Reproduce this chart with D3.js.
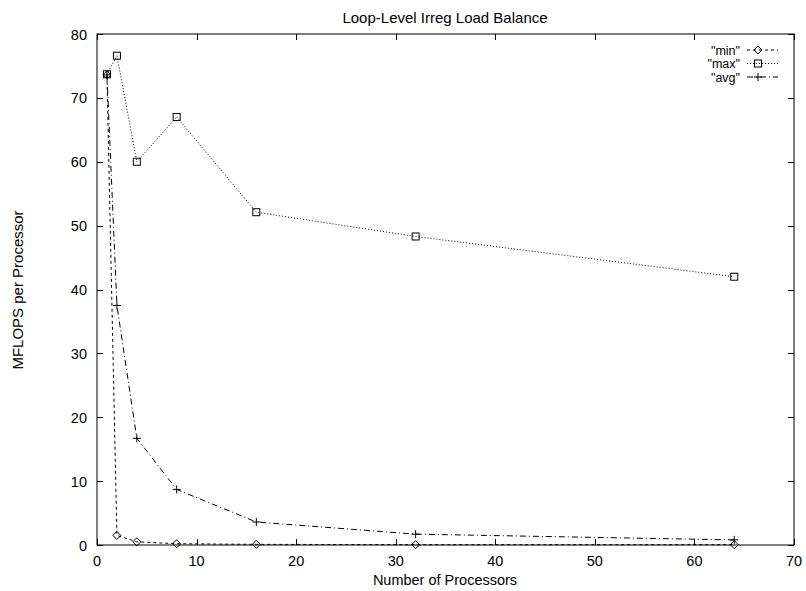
<!DOCTYPE html>
<html><head><meta charset="utf-8">
<script src="https://cdn.jsdelivr.net/npm/d3@7"></script>
<style>body{margin:0;background:#fff}text{font-family:"Liberation Sans",Arial,sans-serif;fill:#000}</style>
</head><body><svg id="c" width="806" height="591"></svg>
<script>
const procs = [1, 2, 4, 8, 16, 32, 64];
const minVals = [73.6, 1.5, 0.5, 0.2, 0.1, 0.05, 0.05];
const maxVals = [73.7, 76.6, 60.0, 67.0, 52.1, 48.3, 42.0];
const avgVals = [73.6, 37.5, 16.7, 8.7, 3.6, 1.7, 0.8];
const xTicks = [0, 10, 20, 30, 40, 50, 60, 70];
const yTicks = [0, 10, 20, 30, 40, 50, 60, 70, 80];
const series = [
  {name: '"min"', vals: minVals, dash: "3,3", marker: "diamond"},
  {name: '"max"', vals: maxVals, dash: "1,2", marker: "square"},
  {name: '"avg"', vals: avgVals, dash: "6,3,1,3", marker: "plus"}
];
const svg = d3.select("#c");
const L = 97, R = 794, T = 34, B = 545;
const x = d3.scaleLinear().domain([0, 70]).range([L, R]);
const y = d3.scaleLinear().domain([0, 80]).range([B, T]);
const tl = 6;
const g = svg.append("g");
g.append("rect").attr("x", L).attr("y", T).attr("width", R - L).attr("height", B - T)
  .attr("fill", "none").attr("stroke", "#000").attr("stroke-width", 1);
xTicks.forEach(t => {
  const px = Math.round(x(t)) + 0.5;
  g.append("line").attr("x1", px).attr("x2", px).attr("y1", B).attr("y2", B - tl).attr("stroke", "#000");
  g.append("line").attr("x1", px).attr("x2", px).attr("y1", T).attr("y2", T + tl).attr("stroke", "#000");
  g.append("text").attr("x", x(t)).attr("y", 566).attr("text-anchor", "middle").attr("font-size", 14.5).text(t);
});
yTicks.forEach(t => {
  const py = Math.round(y(t)) + 0.5;
  g.append("line").attr("x1", L).attr("x2", L + tl).attr("y1", py).attr("y2", py).attr("stroke", "#000");
  g.append("line").attr("x1", R).attr("x2", R - tl).attr("y1", py).attr("y2", py).attr("stroke", "#000");
  g.append("text").attr("x", 87).attr("y", y(t) + 5.5).attr("text-anchor", "end").attr("font-size", 14.5).text(t);
});
svg.append("text").attr("x", 445).attr("y", 23).attr("text-anchor", "middle").attr("font-size", 15).text("Loop-Level Irreg Load Balance");
svg.append("text").attr("x", 445).attr("y", 585).attr("text-anchor", "middle").attr("font-size", 14.5).text("Number of Processors");
svg.append("text").attr("transform", "translate(23,290) rotate(-90)").attr("text-anchor", "middle").attr("font-size", 15).text("MFLOPS per Processor");

function marker(sel, type, cx, cy) {
  if (type === "diamond") {
    sel.append("path").attr("d", `M${cx},${cy-4}L${cx+4},${cy}L${cx},${cy+4}L${cx-4},${cy}Z`)
      .attr("fill", "none").attr("stroke", "#000").attr("stroke-width", 1);
  } else if (type === "square") {
    sel.append("rect").attr("x", cx - 3.5).attr("y", cy - 3.5).attr("width", 7).attr("height", 7)
      .attr("fill", "none").attr("stroke", "#000").attr("stroke-width", 1);
  } else {
    sel.append("path").attr("d", `M${cx-4},${cy}H${cx+4}M${cx},${cy-4}V${cy+4}`)
      .attr("stroke", "#000").attr("stroke-width", 1);
  }
}
const line = d3.line().x(d => x(d[0])).y(d => y(d[1]));
series.forEach((s, i) => {
  const pts = procs.map((p, j) => [p, s.vals[j]]);
  svg.append("path").attr("d", line(pts)).attr("fill", "none").attr("stroke", "#000")
    .attr("stroke-width", 1).attr("stroke-dasharray", s.dash);
  pts.forEach(p => marker(svg, s.marker, x(p[0]), y(p[1])));
  const ly = 50 + i * 13.5;
  svg.append("text").attr("x", 740).attr("y", ly + 4.5).attr("text-anchor", "end").attr("font-size", 12.5).text(s.name);
  svg.append("line").attr("x1", 747).attr("x2", 778).attr("y1", ly).attr("y2", ly)
    .attr("stroke", "#000").attr("stroke-dasharray", s.dash);
  marker(svg, s.marker, 758, ly);
});
</script></body></html>
